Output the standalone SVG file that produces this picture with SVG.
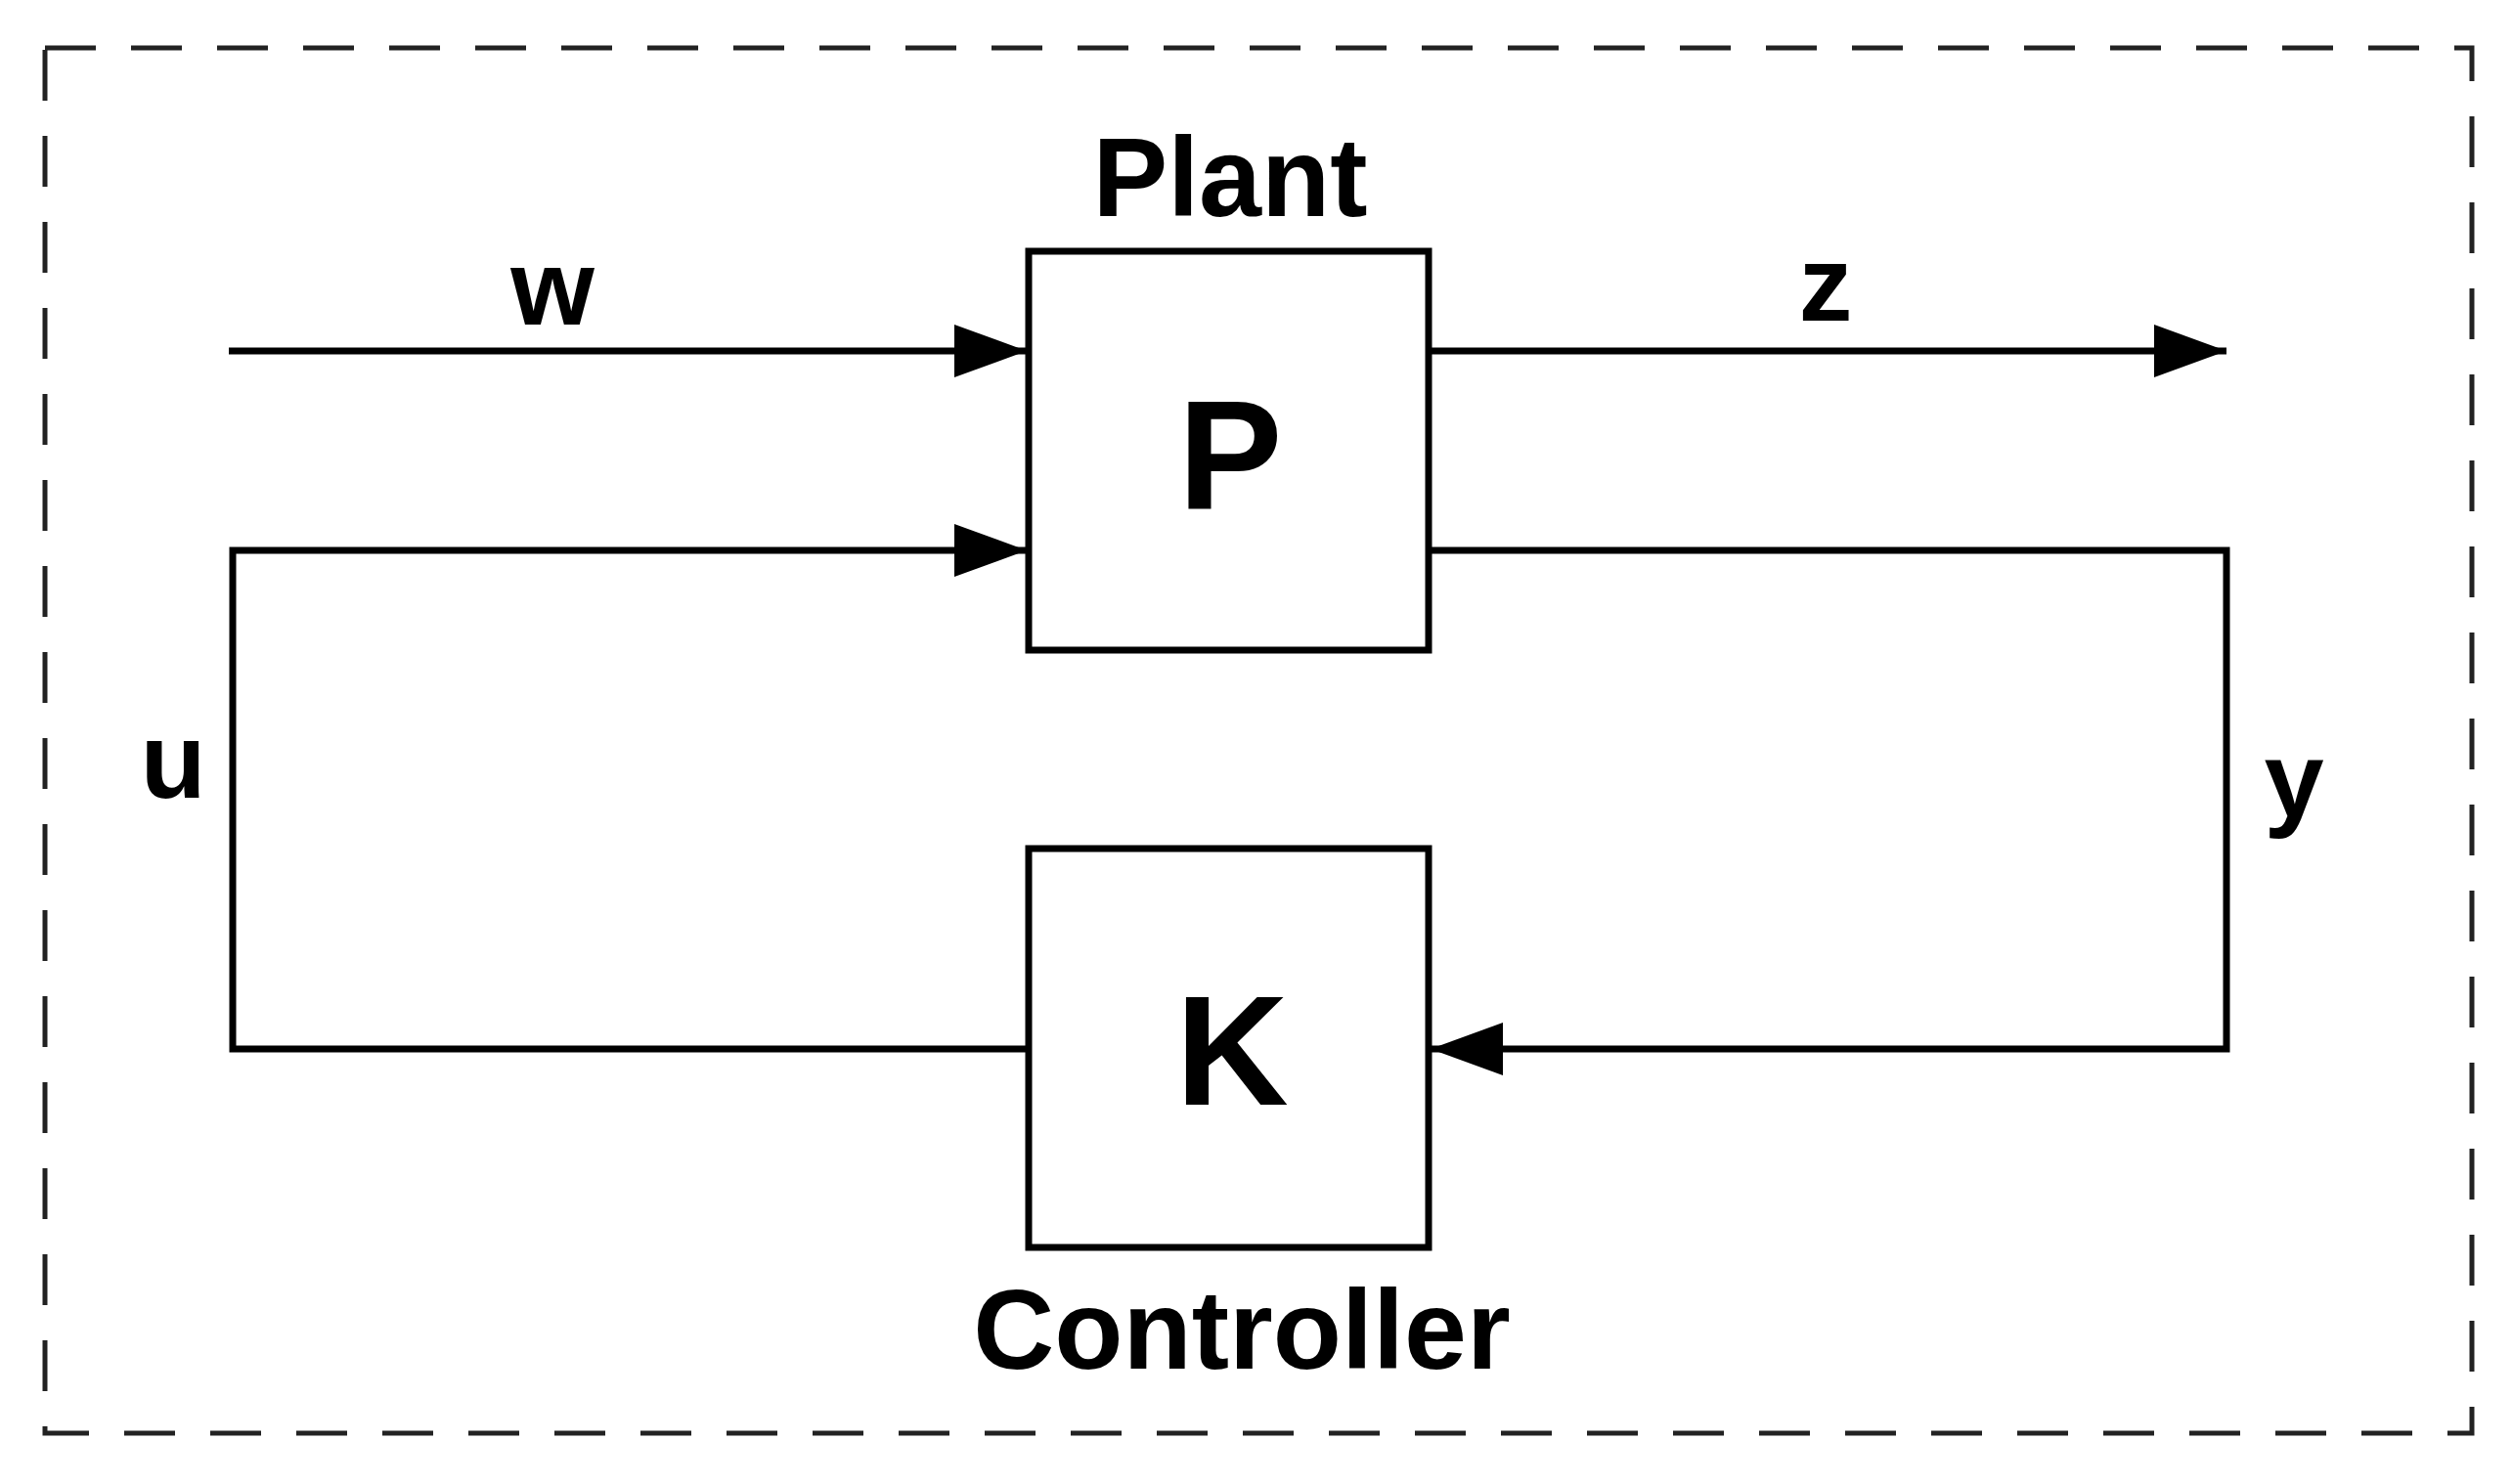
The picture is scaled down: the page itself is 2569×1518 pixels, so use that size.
<svg xmlns="http://www.w3.org/2000/svg" width="2569" height="1518" viewBox="0 0 2569 1518">
<style>
.ln{stroke:#000;stroke-width:7;fill:none}
.bx{stroke:#000;stroke-width:7;fill:#fff}
.t{font-family:"Liberation Sans",Arial,sans-serif;font-weight:bold;fill:#000;text-anchor:middle}
</style>
<defs><marker id="ah" markerWidth="74" markerHeight="54" refX="74" refY="27" markerUnits="userSpaceOnUse" orient="auto"><path d="M0,0 L74,27 L0,54 z" fill="#000"/></marker></defs>
<rect x="46" y="49" width="2482" height="1417" fill="none" stroke="#222" stroke-width="5" stroke-dasharray="52,36"/>
<g id="connectors">
<line class="ln" x1="234" y1="359" x2="1050" y2="359" marker-end="url(#ah)"/>
<line class="ln" x1="1461" y1="359" x2="2277" y2="359" marker-end="url(#ah)"/>
<polyline class="ln" points="1052,1073 238,1073 238,563 1050,563" marker-end="url(#ah)"/>
<polyline class="ln" points="1461,563 2277,563 2277,1073 1463,1073" marker-end="url(#ah)"/>
</g>
<g id="plant"><rect class="bx" x="1052" y="257" width="409" height="408"/><text class="t" x="1258" y="521" font-size="160">P</text><text class="t" x="1258" y="221" font-size="115">Plant</text></g>
<g id="controller"><rect class="bx" x="1052" y="868" width="409" height="408"/><text class="t" x="1260" y="1130" font-size="160">K</text><text class="t" x="1270" y="1400" font-size="115">Controller</text></g>
<g id="labels">
<text class="t" x="565" y="332" font-size="110">w</text>
<text class="t" x="1867" y="328" font-size="110">z</text>
<text class="t" x="177" y="816" font-size="110">u</text>
<text class="t" x="2346" y="835" font-size="110">y</text>
</g>
</svg>
